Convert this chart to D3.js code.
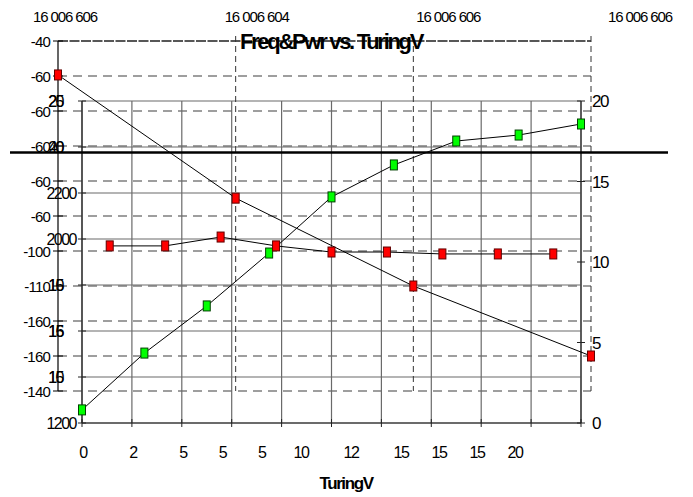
<!DOCTYPE html>
<html><head><meta charset="utf-8">
<script src="https://cdn.jsdelivr.net/npm/d3@7/dist/d3.min.js"></script>
<style>
html,body{margin:0;padding:0;background:#fff;}
svg text{font-family:"Liberation Sans",Arial,sans-serif;fill:#000;}
</style></head>
<body>
<svg id="c" width="693" height="497"></svg>
<script>
// ---- data ----
const title = "Freq&Pwr vs. TuringV";
const xTitle = "TuringV";
// outer (dashed) chart
const topCategories = ["16 006 606", "16 006 604", "16 006 606", "16 006 606"];
const outerTickValues = [-40, -50, -60, -70, -80, -90, -100, -110, -120, -130, -140];
const outerTickLabels = ["-40", "-60", "-60", "-60", "-60", "-60", "-100", "-110", "-160", "-160", "-140"];
const outerSeries = [-49.7, -84.9, -110, -130];
// inner (solid) chart
const tuningTicks = [0, 2, 4, 6, 8, 10, 12, 14, 16, 18, 20];
const tuningTickLabels = ["0", "2", "5", "5", "5", "10", "12", "15", "15", "15", "20"];
const freqTickValues = [1200, 1400, 1600, 1800, 2000, 2200, 2400, 2600];
const freqTickLabels = [["1200"], ["15", "10"], ["15", "16"], ["15", "10"], ["2000"], ["2200"], ["20", "40"], ["20", "25"]];
const pwrTickValues = [0, 5, 10, 15, 20];
const freqV = [0, 2.5, 5, 7.5, 10, 12.5, 15, 17.5, 20];
const freqMHz = [1257, 1504, 1709, 1939, 2183, 2322, 2426, 2452, 2500];
const pwrIdx = [0, 1, 2, 3, 4, 5, 6, 7, 8];
const pwrDbm = [11.0, 11.0, 11.55, 11.0, 10.62, 10.62, 10.5, 10.5, 10.5];

// ---- scales ----
const svg = d3.select("#c");
const xA = d3.scalePoint().domain(d3.range(topCategories.length)).range([58, 591]);
const xALabel = d3.scalePoint().domain(d3.range(topCategories.length)).range([65, 640]);
const yA = d3.scaleLinear().domain([-140, -40]).range([391, 41]);
const xB = d3.scaleLinear().domain([0, 20]).range([82, 581]);
const xBLabel = d3.scaleLinear().domain([0, 2, 5, 7, 10]).range([83, 183, 301, 401, 515]);
const xBand = d3.scaleBand().domain(pwrIdx).range([82, 581]);
const yBL = d3.scaleLinear().domain([1200, 2600]).range([423, 101]);
const yBR = d3.scaleLinear().domain([0, 20]).range([423, 101]);

// ---- outer dashed horizontal grid ----
svg.append("g").selectAll("line").data(outerTickValues).join("line")
  .attr("x1", 58).attr("x2", 591)
  .attr("y1", d => yA(d)).attr("y2", d => yA(d))
  .attr("stroke", (d, i) => i === 0 ? "#202020" : "#7f7f7f")
  .attr("stroke-width", (d, i) => i === 0 ? 1.3 : 1.5)
  .attr("stroke-dasharray", (d, i) => i === 0 ? "10,1.5" : "9,6");

// ---- inner solid grid ----
svg.append("g").selectAll("line").data(freqTickValues).join("line")
  .attr("x1", xB(0)).attr("x2", xB(20))
  .attr("y1", d => yBL(d)).attr("y2", d => yBL(d))
  .attr("stroke", "#6a6a6a").attr("stroke-width", 1.2);
svg.append("g").selectAll("line").data(tuningTicks).join("line")
  .attr("x1", d => xB(d)).attr("x2", d => xB(d))
  .attr("y1", yBL(2600)).attr("y2", yBL(1200))
  .attr("stroke", "#6a6a6a").attr("stroke-width", 1.2);

// ---- outer vertical dashed lines ----
svg.append("g").selectAll("line").data(d3.range(1, topCategories.length)).join("line")
  .attr("x1", d => xA(d)).attr("x2", d => xA(d))
  .attr("y1", 36).attr("y2", yA(-140))
  .attr("stroke", "#333").attr("stroke-width", 1).attr("stroke-dasharray", "6,4");

// ---- outer left axis ----
const axA = svg.append("g");
axA.append("line").attr("x1", 58).attr("x2", 58).attr("y1", yA(-40)).attr("y2", yA(-140))
  .attr("stroke", "#000").attr("stroke-width", 1.2);
axA.selectAll("line.t").data(outerTickValues).join("line").attr("class", "t")
  .attr("x1", 53).attr("x2", 63).attr("y1", d => yA(d)).attr("y2", d => yA(d))
  .attr("stroke", "#000");
axA.selectAll("text").data(outerTickValues).join("text")
  .attr("x", 50).attr("y", d => yA(d) + 5.5)
  .attr("text-anchor", "end").attr("font-size", 15).attr("letter-spacing", -0.8)
  .text((d, i) => outerTickLabels[i]);

// top labels
svg.append("g").selectAll("text").data(topCategories).join("text")
  .attr("x", (d, i) => xALabel(i)).attr("y", 22)
  .attr("text-anchor", "middle").attr("font-size", 15).attr("letter-spacing", -1.1)
  .text(d => d);

// ---- inner axes ----
const axB = svg.append("g");
axB.append("line").attr("x1", xB(0)).attr("x2", xB(0)).attr("y1", yBL(2600)).attr("y2", yBL(1200))
  .attr("stroke", "#222").attr("stroke-width", 1.2);
axB.append("line").attr("x1", xB(20)).attr("x2", xB(20)).attr("y1", yBR(20)).attr("y2", yBR(0))
  .attr("stroke", "#444").attr("stroke-width", 1.5);
axB.append("line").attr("x1", xB(0)).attr("x2", xB(20)).attr("y1", yBL(1200)).attr("y2", yBL(1200))
  .attr("stroke", "#222").attr("stroke-width", 1.2);
axB.selectAll("line.lt").data(freqTickValues).join("line").attr("class", "lt")
  .attr("x1", xB(0) - 4).attr("x2", xB(0) + 4).attr("y1", d => yBL(d)).attr("y2", d => yBL(d))
  .attr("stroke", "#222");
axB.selectAll("line.rt").data(pwrTickValues).join("line").attr("class", "rt")
  .attr("x1", xB(20) - 4).attr("x2", xB(20) + 4).attr("y1", d => yBR(d)).attr("y2", d => yBR(d))
  .attr("stroke", "#222");
axB.selectAll("line.bt").data(tuningTicks).join("line").attr("class", "bt")
  .attr("x1", d => xB(d)).attr("x2", d => xB(d)).attr("y1", yBL(1200) - 4).attr("y2", yBL(1200) + 4)
  .attr("stroke", "#222");
// left inner labels (overlapping glyphs as shown)
freqTickValues.forEach((v, i) => {
  const labs = freqTickLabels[i];
  labs.forEach(s => {
    axB.append("text")
      .attr("x", labs.length > 1 ? xB(0) - 19 : xB(0) - 6).attr("y", yBL(v) + 6)
      .attr("text-anchor", "end").attr("font-size", 16).attr("letter-spacing", -1.5)
      .text(s);
  });
});
// right labels
axB.selectAll("text.r").data(pwrTickValues).join("text").attr("class", "r")
  .attr("x", xB(20) + 11).attr("y", d => yBR(d) + 6)
  .attr("font-size", 17).attr("letter-spacing", -1.5)
  .text(d => d);
// bottom labels
axB.selectAll("text.b").data(tuningTickLabels).join("text").attr("class", "b")
  .attr("x", (d, i) => xBLabel(i)).attr("y", 458)
  .attr("text-anchor", "middle").attr("font-size", 16).attr("letter-spacing", -1.5)
  .text(d => d);

// ---- series ----
const lineA = d3.line().x((d, i) => xA(i)).y(d => yA(d));
svg.append("path").attr("d", lineA(outerSeries)).attr("fill", "none").attr("stroke", "#000").attr("stroke-width", 1);
const lineG = d3.line().x((d, i) => xB(freqV[i])).y(d => yBL(d));
svg.append("path").attr("d", lineG(freqMHz)).attr("fill", "none").attr("stroke", "#000").attr("stroke-width", 1);
const lineR = d3.line().x((d, i) => xBand(pwrIdx[i]) + xBand.bandwidth() / 2).y(d => yBR(d));
svg.append("path").attr("d", lineR(pwrDbm)).attr("fill", "none").attr("stroke", "#000").attr("stroke-width", 1);

const mw = 7, mh = 10;
function markers(data, fx, fy, fill, stroke) {
  svg.append("g").selectAll("rect").data(data).join("rect")
    .attr("x", (d, i) => fx(d, i) - mw / 2).attr("y", (d, i) => fy(d, i) - mh / 2)
    .attr("width", mw).attr("height", mh)
    .attr("fill", fill).attr("stroke", stroke).attr("stroke-width", 1);
}
markers(outerSeries, (d, i) => xA(i), d => yA(d), "#ff0000", "#600000");
markers(freqMHz, (d, i) => xB(freqV[i]), d => yBL(d), "#00ff00", "#004000");
markers(pwrDbm, (d, i) => xBand(pwrIdx[i]) + xBand.bandwidth() / 2, d => yBR(d), "#ff0000", "#600000");

// thick separator line
svg.append("line").attr("x1", 10).attr("x2", 668).attr("y1", 152.5).attr("y2", 152.5)
  .attr("stroke", "#000").attr("stroke-width", 2.5);

// titles
svg.append("text").attr("x", 331).attr("y", 49).attr("text-anchor", "middle")
  .attr("font-size", 22).attr("font-weight", "bold").attr("letter-spacing", -2.3)
  .text(title);
svg.append("text").attr("x", 346).attr("y", 489).attr("text-anchor", "middle")
  .attr("font-size", 17).attr("font-weight", "bold").attr("letter-spacing", -1.4)
  .text(xTitle);
</script>
</body></html>
